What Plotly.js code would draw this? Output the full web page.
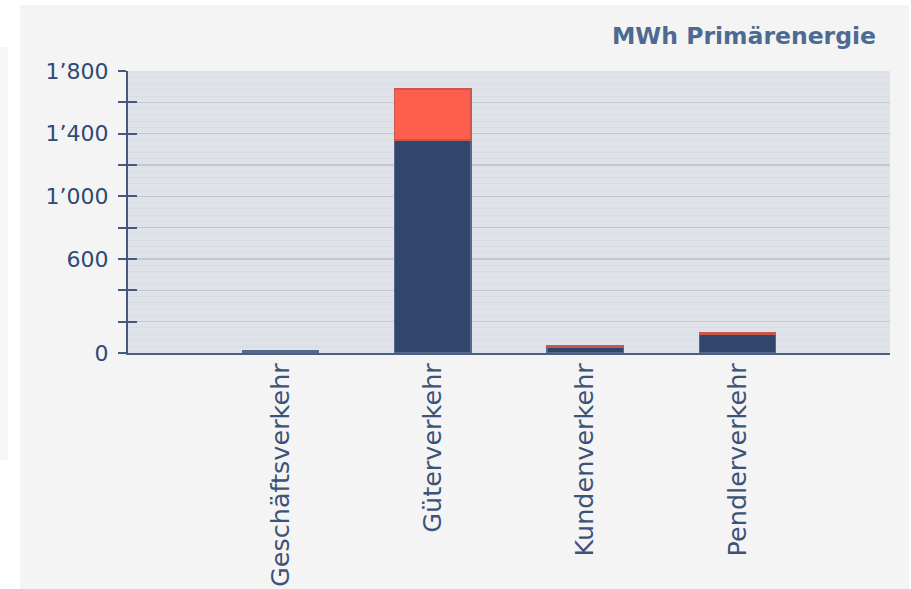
<!DOCTYPE html>
<html>
<head>
<meta charset="utf-8">
<script src="https://cdn.plot.ly/plotly-3.0.1.min.js"></script>
<style>
  html, body { margin: 0; padding: 0; background: #ffffff; }
  #panel { position: absolute; left: 20px; top: 5px; width: 889px; height: 584px; background: #f4f4f4; }
  #stripe { position: absolute; left: 0px; top: 47px; width: 8px; height: 413px; background: #f6f6f6; }
  #chart { position: absolute; left: 0; top: 0; width: 911px; height: 589px; }
</style>
</head>
<body>
<div id="stripe"></div>
<div id="panel"></div>
<div id="chart"></div>
<script>
// Data (MWh Primärenergie)
const categories = ['Geschäftsverkehr', 'Güterverkehr', 'Kundenverkehr', 'Pendlerverkehr'];
const seriesBase = [12, 1360, 36, 122];   // dark blue segment
const seriesTop = [0, 325, 8, 8];         // red segment
const yTickVals = [0, 200, 400, 600, 800, 1000, 1200, 1400, 1600, 1800];
const yTickText = ['0', '', '', '600', '', '1’000', '', '1’400', '', '1’800'];
const chartTitle = 'MWh Primärenergie';

const topLineWidths = seriesTop.map(v => (v > 0 ? 1.5 : 0));

const traces = [
  {
    type: 'bar', x: categories, y: seriesBase, width: 0.5,
    marker: { color: '#30466b', line: { color: '#55678a', width: 1.5 } },
    hoverinfo: 'x+y', showlegend: false
  },
  {
    type: 'bar', x: categories, y: seriesTop, width: 0.5,
    marker: { color: '#fd5e4e', line: { color: '#c9574c', width: topLineWidths } },
    hoverinfo: 'x+y', showlegend: false
  },
  {
    type: 'scatter', x: [categories[0]], y: [0], yaxis: 'y2', mode: 'markers',
    marker: { opacity: 0 }, hoverinfo: 'skip', showlegend: false
  }
];

const layout = {
  width: 911, height: 589,
  margin: { l: 128, r: 21, t: 71, b: 236 },
  paper_bgcolor: 'rgba(0,0,0,0)',
  plot_bgcolor: '#dfe3e9',
  barmode: 'stack',
  showlegend: false,
  title: {
    text: chartTitle,
    font: { family: 'DejaVu Sans', size: 23.5, color: '#4d6a92', weight: 'bold' },
    xref: 'container', x: 876 / 911, xanchor: 'right',
    yref: 'container', y: 1 - 36 / 589, yanchor: 'middle'
  },
  xaxis: {
    type: 'category',
    range: [-1, 4],
    tickangle: -90,
    ticks: '',
    showgrid: false,
    showline: true, linecolor: '#4a5f82', linewidth: 2,
    tickfont: { family: 'DejaVu Sans', size: 25.5, color: '#3d5277' },
    ticklabelstandoff: -2,
    zeroline: false,
    fixedrange: true
  },
  yaxis: {
    range: [0, 1800],
    tickmode: 'array', tickvals: yTickVals, ticktext: yTickText,
    ticks: 'outside', ticklen: 8, tickwidth: 2, tickcolor: '#44597d',
    ticklabelstandoff: 5,
    tickfont: { family: 'DejaVu Sans', size: 22, color: '#2f4a74' },
    showgrid: true, gridcolor: '#c4c8ce', gridwidth: 1.5,
    minor: { dtick: 40, tick0: 0, showgrid: true, gridcolor: '#d9dde4', gridwidth: 1, ticks: '' },
    showline: true, linecolor: '#44597d', linewidth: 2,
    zeroline: false,
    fixedrange: true
  },
  yaxis2: {
    overlaying: 'y', side: 'left', range: [0, 1800],
    tickmode: 'array', tickvals: yTickVals,
    ticks: 'inside', ticklen: 9, tickwidth: 2, tickcolor: '#44597d',
    showticklabels: false, showgrid: false, showline: false, zeroline: false,
    fixedrange: true
  }
};

Plotly.newPlot('chart', traces, layout, { displayModeBar: false, staticPlot: true });
</script>
</body>
</html>
